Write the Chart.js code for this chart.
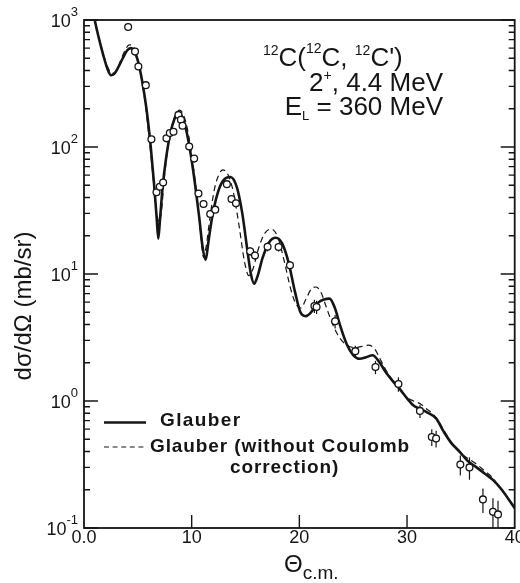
<!DOCTYPE html>
<html>
<head>
<meta charset="utf-8">
<script src="https://cdn.jsdelivr.net/npm/chart.js@4.4.1/dist/chart.umd.min.js"></script>
<style>
  html, body { margin: 0; padding: 0; background: #ffffff; }
  canvas { display: block; }
</style>
</head>
<body>
<canvas id="myChart" width="520" height="583"></canvas>
<script>
/* Data */
    // Glauber (solid curve)
    const glauberX = [0.8, 1.0, 1.4, 1.8, 2.2, 2.5, 2.8, 3.2, 3.6, 4.0, 4.35, 4.7, 5.0, 5.4, 5.8, 6.2, 6.5, 6.75, 6.9, 7.05,
        7.3, 7.6, 8.0, 8.4, 8.75, 9.1, 9.5, 9.9, 10.3, 10.7, 11.0, 11.3, 11.55, 11.9, 12.4, 12.9, 13.6, 14.2, 14.7, 15.2,
        15.5, 15.8, 16.1, 16.6, 17.2, 17.8, 18.4, 19.0, 19.6, 20.1, 20.6, 21.1, 21.7, 22.3, 22.8, 23.3, 23.8, 24.4, 25.0, 25.6,
        26.2, 26.8, 27.4, 28.0, 28.6, 29.3, 30.0, 30.6, 31.2, 31.9, 32.7, 33.4, 34.1, 34.9, 35.6, 36.4, 37.2, 38.0, 38.8, 39.4, 40.0]
    const glauberY = [1260, 1000, 708, 525, 407, 367, 376, 427, 500, 575, 600, 562, 479, 331, 200, 100, 52, 27.5, 19, 26.3,
        48, 79, 126, 166, 184, 174, 135, 89, 52, 28, 16.6, 12.9, 17.8, 28, 43, 54, 58, 48, 30, 14.8,
        10, 8.4, 9.5, 13.5, 17.8, 19.3, 17.4, 12.3, 7.2, 5.0, 4.66, 5.0, 5.9, 6.3, 6.4, 5.4, 3.9, 2.8, 2.3, 2.15,
        2.21, 2.29, 2.04, 1.7, 1.46, 1.25, 1.05, 0.92, 0.87, 0.81, 0.73, 0.575, 0.468, 0.398, 0.339, 0.303, 0.269, 0.238, 0.2, 0.17, 0.143]

    // Glauber without Coulomb correction (dashed curve)
    const noCoulombX = [0.8, 1.0, 1.4, 1.8, 2.2, 2.6, 3.0, 3.4, 3.8, 4.2, 4.5, 4.9, 5.3, 5.7, 6.1, 6.45, 6.75, 7.0, 7.2, 7.45,
        7.8, 8.2, 8.6, 8.9, 9.3, 9.7, 10.1, 10.5, 10.85, 11.1, 11.35, 11.7, 12.1, 12.5, 12.9, 13.4, 13.9, 14.4, 14.9, 15.3,
        15.7, 16.2, 16.8, 17.4, 18.0, 18.6, 19.2, 19.7, 20.15, 20.6, 21.1, 21.55, 22.0, 22.5, 23.0, 23.5, 24.0, 24.6, 25.2, 25.8,
        26.4, 27.0, 27.5, 28.0, 28.6, 29.3, 30.0, 30.6, 31.2, 31.8, 32.4, 33.0, 33.7, 34.4, 35.1, 35.8, 36.5, 37.2, 37.9, 38.6, 39.3, 40.0]
    const noCoulombY = [1260, 1000, 724, 537, 427, 380, 398, 479, 575, 638, 631, 525, 363, 214, 107, 54, 30, 25.7, 31.6, 56,
        100, 151, 186, 195, 174, 126, 76, 40, 20, 13.5, 16.6, 28, 46, 60, 66, 60, 43, 24, 12.6, 9.7,
        11, 15.8, 21, 22.6, 19.5, 12.6, 7.6, 5.75, 5.4, 6.3, 7.6, 7.9, 7.2, 5.5, 4.2, 3.4, 2.95, 2.7, 2.63, 2.69,
        2.75, 2.57, 2.14, 1.78, 1.48, 1.26, 1.07, 1.0, 0.955, 0.87, 0.79, 0.676, 0.537, 0.437, 0.38, 0.347, 0.316, 0.282, 0.251, 0.209, 0.174, 0.143]

    // Measured cross sections (open circles) and relative errors
    const dataX = [4.1, 4.74, 5.05, 5.74, 6.26, 6.73, 7.04, 7.35, 7.66, 7.97, 8.31, 8.77, 9.0, 9.15, 9.77, 10.23, 10.63, 11.1, 11.72, 12.19,
        13.27, 13.7, 14.11, 15.43, 15.88, 17.05, 18.07, 19.13, 21.4, 21.6, 23.32, 25.2, 27.07, 29.2, 31.2, 32.3, 32.7, 34.95, 35.8, 37.05, 37.98, 38.45]
    const dataY = [881, 564, 430, 307, 115, 44, 48.7, 52.6, 117, 129, 132, 179, 164, 147, 101, 81, 43, 35.6, 29.7, 32.1,
        51, 39, 36, 15.1, 14, 16.4, 16.3, 11.7, 5.6, 5.5, 4.24, 2.47, 1.85, 1.36, 0.836, 0.52, 0.507, 0.316, 0.30, 0.168, 0.134, 0.128]
    const dataErr = [0, 0, 0, 0, 0, 0, 0, 0, 0, 0, 0, 0, 0, 0, 0, 0.06, 0.06, 0.06, 0.06, 0.06,
        0.06, 0.06, 0.06, 0.08, 0.08, 0.08, 0.08, 0.08, 0.12, 0.12, 0.12, 0.1, 0.12, 0.13, 0.12, 0.15, 0.15, 0.18, 0.2, 0.22, 0.28, 0.28]

    // Axes
    const xTicks = [0, 10, 20, 30, 40]
    const xTickLabels = ['0.0', '10', '20', '30', '40']
    const yDecades = [0.1, 1, 10, 100, 1000]
    const yExponents = ['-1', '0', '1', '2', '3']
    const yMinorSteps = [2, 3, 4, 5, 6, 7, 8, 9]

const FONT = "'Liberation Sans', Arial, Helvetica, sans-serif"
const INK = '#151515'

function pairs(xs, ys) {
    return xs.map((x, i) => ({ x: x, y: ys[i] }))
}

// Draw a list of runs ({t, size, dy}) one after the other
function drawRuns(ctx, runs, x, y, align) {
    let widths = runs.map(r => { ctx.font = r.size + 'px ' + FONT; return ctx.measureText(r.t).width })
    let total = widths.reduce((a, b) => a + b, 0)
    let cx = align === 'right' ? x - total : x
    runs.forEach((r, i) => {
        ctx.font = r.size + 'px ' + FONT
        ctx.fillText(r.t, cx, y + (r.dy || 0))
        cx += widths[i]
    })
}

const errorBars = {
    id: 'errorBars',
    beforeDatasetsDraw(chart) {
        const ctx = chart.ctx
        const xs = chart.scales.x, ys = chart.scales.y
        ctx.save()
        ctx.strokeStyle = INK
        ctx.lineWidth = 1.2
        dataX.forEach((x, i) => {
            if (!dataErr[i]) return
            let px = xs.getPixelForValue(x)
            let top = ys.getPixelForValue(dataY[i] * (1 + dataErr[i]))
            let bottom = Math.min(ys.getPixelForValue(dataY[i] * (1 - dataErr[i])), chart.chartArea.bottom)
            ctx.beginPath()
            ctx.moveTo(px, top)
            ctx.lineTo(px, bottom)
            ctx.stroke()
        })
        ctx.restore()
    }
}

const frame = {
    id: 'frame',
    afterDraw(chart) {
        const ctx = chart.ctx
        const area = chart.chartArea
        const xs = chart.scales.x, ys = chart.scales.y
        ctx.save()
        ctx.strokeStyle = INK
        ctx.fillStyle = INK

        // Box
        ctx.lineWidth = 1.8
        ctx.strokeRect(area.left, area.top, area.right - area.left, area.bottom - area.top)

        // Inward ticks
        ctx.lineWidth = 1.4
        ctx.beginPath()
        xTicks.slice(1, -1).forEach(v => {
            let px = xs.getPixelForValue(v)
            ctx.moveTo(px, area.bottom)
            ctx.lineTo(px, area.bottom - 13)
        })
        yDecades.forEach((d, k) => {
            let py = ys.getPixelForValue(d)
            ctx.moveTo(area.left, py); ctx.lineTo(area.left + 14, py)
            ctx.moveTo(area.right, py); ctx.lineTo(area.right - 14, py)
            if (k === yDecades.length - 1) return
            yMinorSteps.forEach(m => {
                let pm = ys.getPixelForValue(d * m)
                ctx.moveTo(area.left, pm); ctx.lineTo(area.left + 6, pm)
                ctx.moveTo(area.right, pm); ctx.lineTo(area.right - 6, pm)
            })
        })
        ctx.stroke()

        // Tick labels
        ctx.textBaseline = 'middle'
        ctx.textAlign = 'center'
        ctx.font = '18px ' + FONT
        xTicks.forEach((v, i) => {
            ctx.fillText(xTickLabels[i], xs.getPixelForValue(v), 538)
        })
        ctx.textAlign = 'left'
        ctx.textBaseline = 'alphabetic'
        yDecades.forEach((d, i) => {
            let py = ys.getPixelForValue(d)
            drawRuns(ctx, [
                { t: '10', size: 18, dy: 7 },
                { t: yExponents[i], size: 13, dy: -4 }
            ], 78, py, 'right')
        })

        // Axis titles
        ctx.save()
        ctx.translate(24, 306)
        ctx.rotate(-Math.PI / 2)
        ctx.textAlign = 'center'
        ctx.textBaseline = 'middle'
        ctx.font = '24px ' + FONT
        ctx.fillText('dσ/dΩ (mb/sr)', 0, 0)
        ctx.restore()
        drawRuns(ctx, [
            { t: 'Θ', size: 24 },
            { t: 'c.m.', size: 19, dy: 7 }
        ], 284, 572, 'left')

        // Reaction label
        drawRuns(ctx, [
            { t: '12', size: 14, dy: -11 },
            { t: 'C(', size: 26 },
            { t: '12', size: 14, dy: -13 },
            { t: 'C, ', size: 26 },
            { t: '12', size: 14, dy: -11 },
            { t: "C')", size: 26 }
        ], 263, 66, 'left')
        drawRuns(ctx, [
            { t: '2', size: 26 },
            { t: '+', size: 14, dy: -11 },
            { t: ', 4.4 MeV', size: 26 }
        ], 443, 91, 'right')
        drawRuns(ctx, [
            { t: 'E', size: 26 },
            { t: 'L', size: 13, dy: 5 },
            { t: ' = 360 MeV', size: 26 }
        ], 443, 115, 'right')

        // Legend
        ctx.lineWidth = 2.6
        ctx.beginPath(); ctx.moveTo(104, 422.5); ctx.lineTo(146, 422.5); ctx.stroke()
        ctx.lineWidth = 1.2
        ctx.setLineDash([5, 3.6])
        ctx.beginPath(); ctx.moveTo(104, 447); ctx.lineTo(147, 447); ctx.stroke()
        ctx.setLineDash([])
        ctx.font = 'bold 19px ' + FONT
        ctx.letterSpacing = '1.4px'
        ctx.fillText('Glauber', 160, 426)
        ctx.letterSpacing = '0.9px'
        ctx.fillText('Glauber (without Coulomb', 150, 452)
        ctx.fillText('correction)', 230, 473)
        ctx.restore()
    }
}

function createChart() {
    const ctx = document.getElementById('myChart').getContext('2d')
    const myChart = new Chart(ctx, {
        type: 'scatter',
        data: {
            datasets: [{
                label: 'Data',
                data: pairs(dataX, dataY),
                pointRadius: 3.4,
                pointBackgroundColor: '#ffffff',
                pointBorderColor: INK,
                pointBorderWidth: 1.3,
                showLine: false
            }, {
                label: 'Glauber',
                data: pairs(glauberX, glauberY),
                showLine: true,
                borderColor: INK,
                borderWidth: 2.6,
                pointRadius: 0,
                cubicInterpolationMode: 'monotone'
            }, {
                label: 'Glauber (without Coulomb correction)',
                data: pairs(noCoulombX, noCoulombY),
                showLine: true,
                borderColor: INK,
                borderWidth: 1.2,
                borderDash: [6, 4],
                pointRadius: 0,
                cubicInterpolationMode: 'monotone'
            }]
        },
        options: {
            responsive: false,
            animation: false,
            devicePixelRatio: 1,
            layout: { padding: { left: 84, right: 5, top: 20, bottom: 55 } },
            scales: {
                x: { type: 'linear', min: 0, max: 40, display: false },
                y: { type: 'logarithmic', min: 0.1, max: 1000, display: false }
            },
            plugins: {
                legend: { display: false },
                tooltip: { enabled: false }
            }
        },
        plugins: [errorBars, frame]
    })
}

createChart()
</script>
</body>
</html>
